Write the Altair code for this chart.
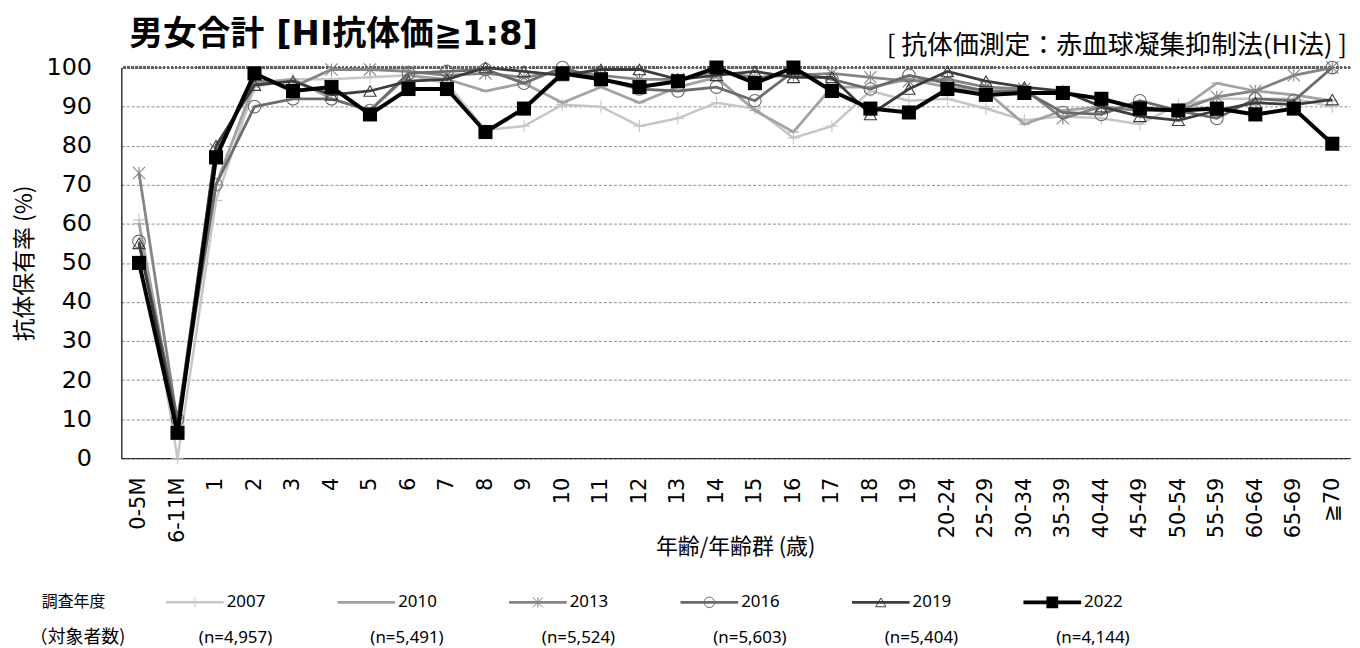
import altair as alt
import pandas as pd

categories = ["0-5M", "6-11M", "1", "2", "3", "4", "5", "6", "7", "8", "9", "10",
              "11", "12", "13", "14", "15", "16", "17", "18", "19", "20-24", "25-29",
              "30-34", "35-39", "40-44", "45-49", "50-54", "55-59", "60-64", "65-69", "≧70"]
years = ["2007", "2010", "2013", "2016", "2019", "2022"]
n_labels = ["(n=4,957)", "(n=5,491)", "(n=5,524)", "(n=5,603)", "(n=5,404)", "(n=4,144)"]

v2007 = [61, 0, 66, 95, 97, 97, 97.5, 98, 96, 84, 85, 90.5, 90, 85, 87, 91, 89.5, 82,
         85, 94, 91.5, 92, 89.5, 86.5, 87.5, 87, 85.5, 90.5, 92, 92, 92, 90]
v2010 = [60, 8, 70, 96, 97, 92, 89, 98, 97, 94, 96, 91, 95, 91, 95, 97.5, 89, 83.5,
         95, 95, 97, 95, 94, 85.5, 89, 90, 89, 89, 96, 94, 93, 91.5]
v2013 = [73, 9, 79, 97, 95, 99.5, 99.5, 99, 98, 98.5, 97.5, 99, 98, 97, 97, 99, 97.5,
         98, 98.5, 97.5, 96.5, 97, 95, 94.5, 87, 90, 89, 89, 92.5, 94, 98, 100]
v2016 = [55.5, 10, 70, 90, 92, 92, 89, 98.5, 99, 99.5, 96, 100, 97, 94.5, 94, 95, 91.5,
         99, 97, 94.5, 98, 96, 94, 94, 88.5, 88, 91.5, 89, 87, 92, 91.5, 100]
v2019 = [55, 8, 80, 95.5, 96.5, 93, 94, 96.5, 97, 100, 99, 98, 99.5, 99.5, 97, 98, 99,
         97.5, 97.5, 88, 94.5, 99, 96.5, 95, 94, 90, 87.5, 86.5, 89, 91, 90.5, 91.8]
v2022 = [50, 6.5, 77, 98.5, 94, 95, 88, 94.5, 94.5, 83.5, 89.5, 98.5, 97, 95, 96.5, 100,
         96, 100, 94, 89.5, 88.5, 94.5, 93, 93.5, 93.5, 92, 89.5, 89, 89.5, 88, 89.5, 80.5]

series = {"2007": v2007, "2010": v2010, "2013": v2013,
          "2016": v2016, "2019": v2019, "2022": v2022}

title_text = "男女合計 [HI抗体価≧1:8]"
subtitle_text = "[ 抗体価測定：赤血球凝集抑制法(HI法) ]"
y_title = "抗体保有率 (%)"
x_title = "年齢/年齢群 (歳)"
legend_head = "調査年度"
legend_n_head = "（対象者数)"

colors = {"2007": "#c6c6c6", "2010": "#a3a3a3", "2013": "#858585",
          "2016": "#6b6b6b", "2019": "#3c3c3c", "2022": "#000000"}
widths = {"2007": 2.5, "2010": 2.8, "2013": 2.8, "2016": 2.8, "2019": 2.8, "2022": 4}
shapes = {"2007": "M-1,0L1,0M0,-1L0,1", "2010": "M-1,0L1,0",
          "2013": "M-1,-1L1,1M-1,1L1,-1M0,-1L0,1", "2016": "circle",
          "2019": "triangle-up", "2022": "square"}
sizes = {"2007": 150, "2010": 120, "2013": 150, "2016": 160, "2019": 150, "2022": 200}

rows = [{"age": c, "value": v, "year": y}
        for y in years for c, v in zip(categories, series[y])]
df = pd.DataFrame(rows)

W, H = 1236, 393
LAT = "DejaVu Sans"
CJK = "Noto Sans CJK JP"

x_scale = alt.Scale(type="point", padding=0.46)
y_scale = alt.Scale(domain=[0, 100], nice=False)
x_axis = alt.Axis(title=None, labelAngle=270, labelFont=LAT, labelFontSize=21,
                  labelColor="black", labelPadding=19, ticks=False, tickSize=0,
                  domainColor="black", domainWidth=1, grid=False, labelOverlap=False)
y_axis = alt.Axis(title=y_title, titleFont=CJK, titleFontSize=23, titleFontWeight="normal",
                  titleColor="black", titlePadding=10,
                  values=list(range(0, 101, 10)), labelFont=LAT,
                  labelFontSize=24, labelColor="black", labelPadding=30,
                  labelOverlap=False, ticks=False, tickSize=0, domainColor="black",
                  domainWidth=1.2, grid=True, gridColor="#8a8a8a", gridDash=[3, 2],
                  gridWidth=1)
x_enc = alt.X("age:N", sort=categories, scale=x_scale, axis=x_axis)
y_enc = alt.Y("value:Q", scale=y_scale, axis=y_axis)

layers = []
base = alt.Chart(df)
for y in years:
    d = base.transform_filter(alt.datum.year == y)
    layers.append(d.mark_line(color=colors[y], strokeWidth=widths[y])
                  .encode(x=x_enc, y=y_enc))
    if y == "2007":
        layers.append(base.mark_rule(color="#606060", strokeDash=[2, 2], strokeWidth=1.4)
                      .encode(y=alt.Y(datum=100, type="quantitative", scale=y_scale,
                                      axis=y_axis)))
    layers.append(d.mark_point(shape=shapes[y], size=sizes[y], filled=(y == "2022"),
                               color=colors[y], strokeWidth=1.1, opacity=1)
                  .encode(x=x_enc, y=y_enc))


def txt(s, x, yv, size, font, align="left", weight="normal", angle=0):
    return (alt.Chart(pd.DataFrame({"t": [s]}))
            .mark_text(align=align, baseline="middle", fontSize=size, font=font,
                       fontWeight=weight, color="black", angle=angle)
            .encode(text="t:N", x=alt.value(x), y=alt.value(yv)))


layers.append(txt(title_text, 8, -33, 34, LAT + ", " + CJK, weight="bold"))
layers.append(txt(subtitle_text, 1233, -22, 26, CJK, align="right"))
layers.append(txt(x_title, 618, 482, 22, CJK, align="center"))
layers.append(txt(legend_head, -80, 538, 16, CJK))
layers.append(txt(legend_n_head, -92, 574, 18, CJK))

for i, y in enumerate(years):
    lx = 45 + i * 172.5
    one = pd.DataFrame({"k": [0]})
    layers.append(alt.Chart(one).mark_rule(color=colors[y], strokeWidth=widths[y])
                  .encode(x=alt.value(lx), x2=alt.value(lx + 58), y=alt.value(538)))
    layers.append(alt.Chart(one).mark_point(shape=shapes[y], size=sizes[y] * 0.7,
                                            filled=(y == "2022"), color=colors[y],
                                            strokeWidth=1, opacity=1)
                  .encode(x=alt.value(lx + 29), y=alt.value(538)))
    layers.append(txt(y, lx + 61, 538, 17, "Noto Sans"))
    layers.append(txt(n_labels[i], lx + 33, 574, 17, "Noto Sans"))

chart = (alt.layer(*layers)
         .properties(width=W, height=H,
                     padding={"left": 114, "top": 58, "right": 2, "bottom": 189},
                     autosize=alt.AutoSizeParams(type="none"))
         .configure_view(stroke=None))

chart.save("out.html", embed_options={"renderer": "svg", "actions": False})
